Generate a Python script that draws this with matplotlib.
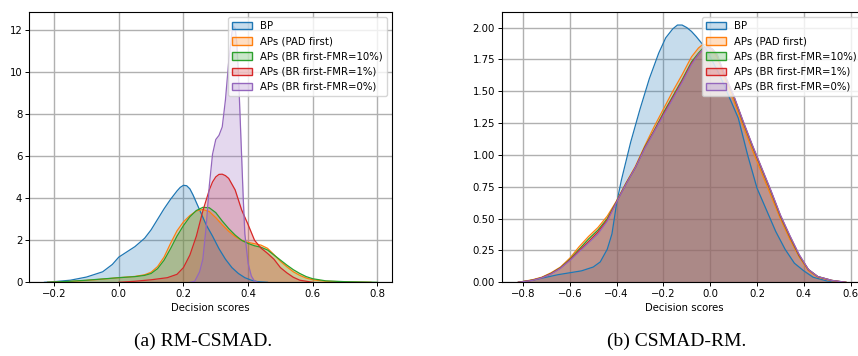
import matplotlib
matplotlib.use("Agg")
import matplotlib.pyplot as plt
from matplotlib.patches import Patch

labels = ["BP", "APs (PAD first)", "APs (BR first-FMR=10%)",
          "APs (BR first-FMR=1%)", "APs (BR first-FMR=0%)"]
colors = ["tab:blue", "tab:orange", "tab:green", "tab:red", "tab:purple"]

# (a) RM-CSMAD - density curves
a_bp_x = [-0.23, -0.2, -0.15, -0.1, -0.05, -0.02, 0.0, 0.03, 0.05, 0.08, 0.1, 0.12,
          0.14, 0.16, 0.18, 0.19, 0.2, 0.21, 0.22, 0.23, 0.25, 0.27, 0.29, 0.31,
          0.33, 0.35, 0.37, 0.39, 0.41, 0.43, 0.46]
a_bp_y = [0, 0.03, 0.1, 0.25, 0.5, 0.85, 1.2, 1.5, 1.7, 2.1, 2.5, 3.0,
          3.5, 3.95, 4.35, 4.52, 4.62, 4.6, 4.45, 4.15, 3.45, 2.75, 2.2, 1.6,
          1.1, 0.7, 0.42, 0.22, 0.1, 0.03, 0]
a_pad_x = [-0.22, -0.15, -0.1, -0.05, 0.0, 0.05, 0.08, 0.1, 0.12, 0.14, 0.16, 0.18,
           0.2, 0.22, 0.24, 0.26, 0.28, 0.3, 0.32, 0.34, 0.36, 0.38, 0.4, 0.42,
           0.44, 0.46, 0.48, 0.5, 0.52, 0.54, 0.56, 0.58, 0.6, 0.64, 0.7, 0.78]
a_pad_y = [0, 0.04, 0.09, 0.15, 0.22, 0.28, 0.36, 0.48, 0.75, 1.2, 1.85, 2.45,
           2.88, 3.18, 3.4, 3.47, 3.37, 3.08, 2.74, 2.43, 2.18, 2.0, 1.9, 1.84,
           1.77, 1.62, 1.32, 1.0, 0.74, 0.5, 0.33, 0.2, 0.12, 0.05, 0.02, 0]
a_f10_x = [-0.22, -0.15, -0.1, -0.05, 0.0, 0.05, 0.08, 0.1, 0.12, 0.14, 0.16, 0.18,
           0.2, 0.22, 0.24, 0.26, 0.28, 0.3, 0.32, 0.34, 0.36, 0.38, 0.4, 0.42,
           0.44, 0.46, 0.48, 0.5, 0.52, 0.54, 0.56, 0.58, 0.6, 0.64, 0.7, 0.8]
a_f10_y = [0, 0.05, 0.1, 0.16, 0.22, 0.27, 0.33, 0.42, 0.65, 1.05, 1.6, 2.2,
           2.7, 3.12, 3.42, 3.57, 3.55, 3.32, 2.92, 2.56, 2.25, 2.0, 1.85, 1.74,
           1.67, 1.54, 1.3, 1.06, 0.82, 0.6, 0.42, 0.27, 0.17, 0.07, 0.03, 0]
a_f1_x = [0.0, 0.05, 0.1, 0.15, 0.18, 0.2, 0.22, 0.24, 0.26, 0.28, 0.29, 0.3, 0.31,
          0.32, 0.33, 0.34, 0.36, 0.38, 0.4, 0.42, 0.44, 0.46, 0.48, 0.5, 0.52, 0.54,
          0.56, 0.6]
a_f1_y = [0, 0.05, 0.12, 0.22, 0.38, 0.7, 1.3, 2.2, 3.4, 4.4, 4.78, 5.02, 5.14,
          5.15, 5.08, 4.95, 4.4, 3.45, 2.75, 2.0, 1.63, 1.38, 1.1, 0.7, 0.45, 0.24,
          0.1, 0]
a_f0_x = [0.22, 0.235, 0.25, 0.26, 0.27, 0.28, 0.29, 0.3, 0.31, 0.32, 0.33, 0.34,
          0.35, 0.355, 0.36, 0.365, 0.37, 0.38, 0.385, 0.39, 0.4, 0.41, 0.42, 0.43]
a_f0_y = [0, 0.05, 0.5, 1.1, 2.6, 4.6, 6.1, 6.8, 7.0, 7.4, 8.7, 10.5,
          11.9, 12.2, 12.1, 11.4, 10.0, 6.0, 4.0, 2.3, 0.9, 0.3, 0.05, 0]

# (b) CSMAD-RM
b_bp_x = [-0.82, -0.75, -0.7, -0.65, -0.6, -0.55, -0.5, -0.47, -0.44, -0.42, -0.4,
          -0.38, -0.36, -0.34, -0.3, -0.26, -0.22, -0.19, -0.16, -0.14, -0.12, -0.1,
          -0.08, -0.06, -0.02, 0.0, 0.04, 0.08, 0.12, 0.16, 0.2, 0.24, 0.28, 0.32,
          0.36, 0.4, 0.44, 0.5, 0.56]
b_bp_y = [0, 0.02, 0.04, 0.06, 0.075, 0.09, 0.12, 0.16, 0.26, 0.38, 0.62,
          0.8, 0.95, 1.1, 1.36, 1.6, 1.8, 1.92, 1.99, 2.02, 2.02, 2.0,
          1.97, 1.93, 1.84, 1.77, 1.63, 1.46, 1.29, 1.0, 0.74, 0.57, 0.4, 0.26,
          0.15, 0.09, 0.04, 0.01, 0]
b_ap_x = [-0.82, -0.76, -0.72, -0.68, -0.64, -0.6, -0.56, -0.52, -0.48, -0.44, -0.4,
          -0.36, -0.32, -0.28, -0.24, -0.2, -0.16, -0.12, -0.08, -0.05, -0.03, -0.01,
          0.01, 0.03, 0.06, 0.1, 0.14, 0.18, 0.22, 0.26, 0.3, 0.34, 0.38, 0.42, 0.46,
          0.52, 0.58]
b_pad_y = [0, 0.02, 0.04, 0.075, 0.12, 0.19, 0.28, 0.36, 0.43, 0.52, 0.64,
           0.78, 0.91, 1.07, 1.22, 1.36, 1.5, 1.63, 1.77, 1.84, 1.87, 1.86,
           1.82, 1.76, 1.61, 1.43, 1.23, 1.04, 0.86, 0.68, 0.5, 0.34, 0.2, 0.09, 0.04,
           0.012, 0]
b_f10_y = [0, 0.017, 0.037, 0.07, 0.115, 0.18, 0.26, 0.34, 0.41, 0.5, 0.635,
           0.775, 0.9, 1.06, 1.19, 1.33, 1.46, 1.59, 1.73, 1.8, 1.84, 1.85,
           1.83, 1.78, 1.63, 1.46, 1.26, 1.07, 0.89, 0.71, 0.52, 0.36, 0.21, 0.1,
           0.045, 0.015, 0]
b_f1_y = [0, 0.016, 0.036, 0.068, 0.112, 0.175, 0.25, 0.32, 0.395, 0.49, 0.632,
          0.772, 0.9, 1.055, 1.185, 1.32, 1.45, 1.58, 1.72, 1.79, 1.83, 1.85,
          1.83, 1.78, 1.635, 1.465, 1.265, 1.075, 0.895, 0.715, 0.525, 0.365, 0.215,
          0.1, 0.045, 0.015, 0]
b_f0_y = [0, 0.015, 0.035, 0.065, 0.11, 0.17, 0.24, 0.31, 0.38, 0.48, 0.63,
          0.77, 0.9, 1.05, 1.18, 1.31, 1.44, 1.57, 1.71, 1.79, 1.83, 1.85,
          1.83, 1.79, 1.64, 1.47, 1.27, 1.08, 0.9, 0.72, 0.53, 0.37, 0.22, 0.1,
          0.045, 0.015, 0]

panel_a = [(a_bp_x, a_bp_y), (a_pad_x, a_pad_y), (a_f10_x, a_f10_y),
           (a_f1_x, a_f1_y), (a_f0_x, a_f0_y)]
panel_b = [(b_bp_x, b_bp_y), (b_ap_x, b_pad_y), (b_ap_x, b_f10_y),
           (b_ap_x, b_f1_y), (b_ap_x, b_f0_y)]

fs = 7.3
fig = plt.figure(figsize=(8.58, 3.56), dpi=100)
ax_a = fig.add_axes([0.0341, 0.207, 0.4227, 0.7584])
ax_b = fig.add_axes([0.5851, 0.207, 0.4242, 0.7584])


def draw(ax, curves, xlim, ylim, yticks, yfmt):
    ax.set_axisbelow(True)
    ax.grid(True, color="#b0b0b0", linewidth=1.0)
    for (x, y), c in zip(curves, colors):
        ax.fill_between(x, y, 0, color=c, alpha=0.25, linewidth=0)
        ax.plot(x, y, color=c, linewidth=0.9, solid_joinstyle="round")
    ax.set_xlim(*xlim)
    ax.set_ylim(*ylim)
    ax.set_yticks(yticks)
    ax.set_yticklabels([yfmt.format(t) for t in yticks])
    ax.tick_params(labelsize=fs, length=3, width=0.7, pad=2)
    ax.set_xlabel("Decision scores", fontsize=fs, labelpad=3)
    for s in ax.spines.values():
        s.set_linewidth(0.8)
    handles = [Patch(facecolor=matplotlib.colors.to_rgba(c, 0.25), edgecolor=c)
               for c in colors]
    ax.legend(handles, labels, loc="upper right", fontsize=fs)


draw(ax_a, panel_a, (-0.277, 0.845), (0, 12.86), [0, 2, 4, 6, 8, 10, 12], "{:.0f}")
ax_a.set_xticks([-0.2, 0.0, 0.2, 0.4, 0.6, 0.8])
draw(ax_b, panel_b, (-0.89, 0.666), (0, 2.12),
     [0, 0.25, 0.5, 0.75, 1.0, 1.25, 1.5, 1.75, 2.0], "{:.2f}")
ax_b.set_xticks([-0.8, -0.6, -0.4, -0.2, 0.0, 0.2, 0.4, 0.6])

fig.text(203 / 858, 1 - 341 / 356, "(a) RM-CSMAD.", ha="center", va="center",
         fontsize=14, family="Liberation Serif")
fig.text(677 / 858, 1 - 341 / 356, "(b) CSMAD-RM.", ha="center", va="center",
         fontsize=14, family="Liberation Serif")

fig.savefig("out.png", dpi=100)
